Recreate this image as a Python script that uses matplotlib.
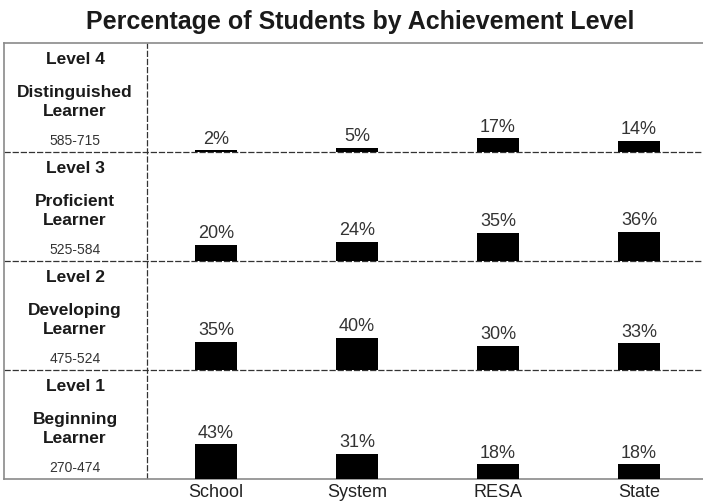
import matplotlib.pyplot as plt

plt.rcParams['font.family'] = ['Liberation Sans', 'DejaVu Sans']

groups = ["School", "System", "RESA", "State"]
level_names = ["Level 1", "Level 2", "Level 3", "Level 4"]
level_titles = ["Beginning\nLearner", "Developing\nLearner", "Proficient\nLearner", "Distinguished\nLearner"]
score_ranges = ["270-474", "475-524", "525-584", "585-715"]

# percent of students per level (rows, bottom to top) and group (columns)
level1 = [43, 31, 18, 18]
level2 = [35, 40, 30, 33]
level3 = [20, 24, 35, 36]
level4 = [2, 5, 17, 14]
levels = [level1, level2, level3, level4]

BAND = 135  # height of one level row, in percent units

fig = plt.figure(figsize=(7.03, 5.02), dpi=100)
ax = fig.add_axes([4 / 703, 22 / 502, 699 / 703, 436 / 502])
ax.set_xlim(-1.504, 3.454)
ax.set_ylim(0, 4 * BAND)

xs = list(range(len(groups)))
px = BAND / 109.0  # data units per pixel inside a row
for k, vals in enumerate(levels):
    base = k * BAND
    bars = ax.bar(xs, vals, width=0.30, bottom=base, color="black", zorder=3)
    for b, v in zip(bars, vals):
        ax.annotate(f"{v}%", (b.get_x() + b.get_width() / 2, base + v),
                    xytext=(0, 2.5), textcoords="offset points",
                    ha="center", va="bottom", fontsize=13, color="#333333")

    # row labels in the left column
    top = base + BAND
    ax.text(-1.0, top - 15.5 * px, level_names[k], ha="center", va="center",
            fontsize=12.5, fontweight="bold", color="#1a1a1a")
    ax.text(-1.0, top - 58 * px, level_titles[k], ha="center", va="center",
            fontsize=12.5, fontweight="bold", color="#1a1a1a", linespacing=1.4)
    ax.text(-1.0, top - 97 * px, score_ranges[k], ha="center", va="center",
            fontsize=10, color="#333333")

for k in range(1, 4):
    ax.axhline(k * BAND, color="#333333", lw=0.9, ls=(0, (5, 1.5)), zorder=2)
ax.axvline(-0.489, color="#333333", lw=0.9, ls=(0, (5, 1.5)), zorder=2)

for side in ["left", "top", "bottom"]:
    ax.spines[side].set_color("#8a8a8a")
    ax.spines[side].set_linewidth(1.2)
ax.spines["right"].set_visible(False)

ax.set_xticks(xs)
ax.set_xticklabels(groups, fontsize=13, color="#222222")
ax.tick_params(axis="x", length=0, pad=3)
ax.set_yticks([])

fig.text(360 / 703, 1 - 22 / 502, "Percentage of Students by Achievement Level",
         ha="center", va="center", fontsize=18, fontweight="bold", color="#1a1a1a")

fig.savefig("out.png", dpi=100)
